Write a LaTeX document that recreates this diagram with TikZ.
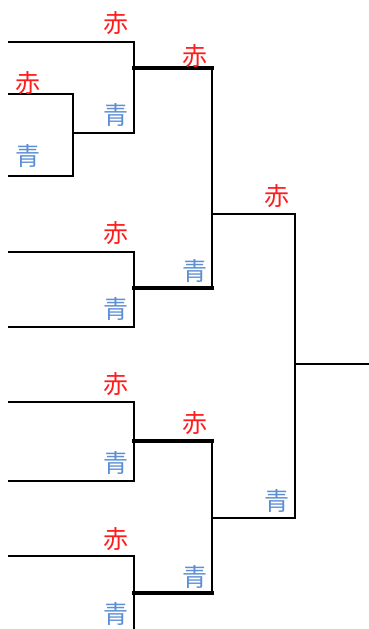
\documentclass[tikz,border=0pt]{standalone}
\usepackage{fontspec}
\newfontfamily\cjk{Noto Sans CJK JP}
\definecolor{akared}{RGB}{255,28,28}
\definecolor{aoblue}{RGB}{92,142,214}
\begin{document}
\begin{tikzpicture}[x=1pt,y=-1pt,
  br/.style={line width=2pt,line join=miter,line cap=rect},
  win/.style={line width=3.4pt,line cap=rect},
  red/.style={text=akared,font=\cjk\fontsize{25}{25}\selectfont,inner sep=0pt},
  blue/.style={text=aoblue,font=\cjk\fontsize{25}{25}\selectfont,inner sep=0pt}]
\useasboundingbox (0,0) rectangle (369,629);
% coordinates
\coordinate (l1) at (9,42);   \coordinate (a1) at (134,42);
\coordinate (l2) at (9,94);   \coordinate (b1) at (73,94);
\coordinate (l3) at (9,176);  \coordinate (b2) at (73,176);
\coordinate (b3) at (73,133); \coordinate (a2) at (134,133);
\coordinate (a3) at (134,68); \coordinate (c1) at (212,68);
\coordinate (c2) at (212,214); \coordinate (d1) at (295,214);
\coordinate (d2) at (295,518); \coordinate (c3) at (212,518);
\coordinate (d3) at (295,364); \coordinate (fin) at (369,364);
\coordinate (c4) at (212,288); \coordinate (a4) at (134,288);
\coordinate (l4) at (9,252);  \coordinate (a5) at (134,252);
\coordinate (l5) at (9,327);  \coordinate (a6) at (134,327);
\coordinate (l6) at (9,402);  \coordinate (a7) at (134,402);
\coordinate (l7) at (9,481);  \coordinate (a8) at (134,481);
\coordinate (a9) at (134,441); \coordinate (c5) at (212,441);
\coordinate (a10) at (134,593); \coordinate (c6) at (212,593);
\coordinate (l8) at (9,556);  \coordinate (a11) at (134,556);
\coordinate (a12) at (134,629);
% brackets
\draw[br] (l1) -- (a1) -- (a2) -- (b3);
\draw[br] (l2) -- (b1) -- (b2) -- (l3);
\draw[br] (c1) -- (c2) -- (c4);
\draw[br] (l4) -- (a5) -- (a6) -- (l5);
\draw[br] (c2) -- (d1) -- (d2) -- (c3);
\draw[br] (d3) -- (fin);
\draw[br] (l6) -- (a7) -- (a8) -- (l7);
\draw[br] (c5) -- (c6);
\draw[br] (l8) -- (a11) -- (a12);
\draw[win] (a3) -- (c1);
\draw[win] (a4) -- (c4);
\draw[win] (a9) -- (c5);
\draw[win] (a10) -- (c6);
% labels
\node[red]  (r1)  at (116,23)  {赤};
\node[red]  (r2)  at (195,56)  {赤};
\node[red]  (r3)  at (28,83)   {赤};
\node[blue] (u1)  at (116,115) {青};
\node[blue] (u2)  at (28,156)  {青};
\node[red]  (r4)  at (116,233) {赤};
\node[blue] (u3)  at (116,309) {青};
\node[blue] (u4)  at (195,271) {青};
\node[red]  (r5)  at (277,196) {赤};
\node[blue] (u5)  at (277,501) {青};
\node[red]  (r6)  at (116,384) {赤};
\node[red]  (r7)  at (195,423) {赤};
\node[blue] (u6)  at (116,463) {青};
\node[red]  (r8)  at (116,539) {赤};
\node[blue] (u7)  at (195,577) {青};
\node[blue] (u8)  at (116,614) {青};
\end{tikzpicture}
\end{document}
